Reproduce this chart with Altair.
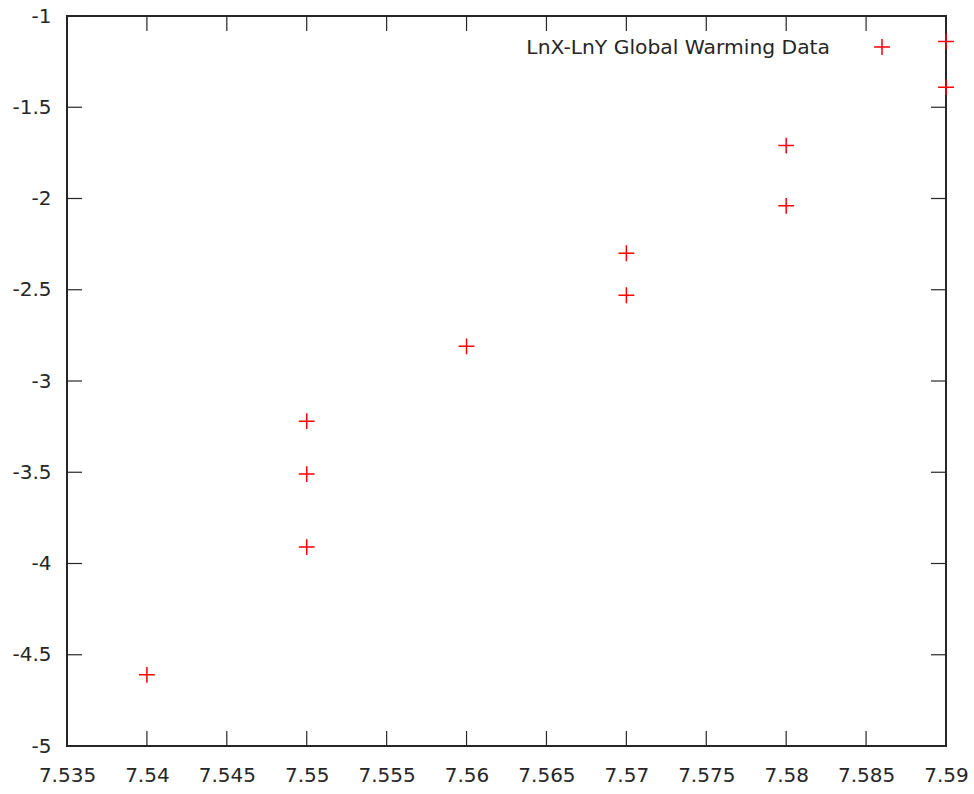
import altair as alt
import pandas as pd

# Data
ln_x = [7.54, 7.55, 7.55, 7.55, 7.56, 7.57, 7.57, 7.58, 7.58, 7.59, 7.59]
ln_y = [-4.61, -3.22, -3.51, -3.91, -2.81, -2.30, -2.53, -1.71, -2.04, -1.14, -1.39]
x_ticks = [7.535, 7.54, 7.545, 7.55, 7.555, 7.56, 7.565, 7.57, 7.575, 7.58, 7.585, 7.59]
y_ticks = [-5, -4.5, -4, -3.5, -3, -2.5, -2, -1.5, -1]
series_label = "LnX-LnY Global Warming Data"

W, H = 879, 730
TICK = 15
FONT = "DejaVu Sans"
INK = "#262626"
PLUS = "M-1,0L1,0M0,-1L0,1"

df = pd.DataFrame({"x": ln_x, "y": ln_y})
xt = pd.DataFrame({"x": x_ticks})
yt = pd.DataFrame({"y": y_ticks})

xscale = alt.Scale(domain=[7.535, 7.59], nice=False, zero=False)
yscale = alt.Scale(domain=[-5, -1], nice=False, zero=False)

xaxis = alt.Axis(values=x_ticks, labelExpr="'' + datum.value", title=None, grid=False,
                 tickSize=0, domain=False, labelPadding=19, labelFontSize=20,
                 labelFont=FONT, labelColor=INK, labelFlush=False)
yaxis = alt.Axis(values=y_ticks, labelExpr="'' + datum.value", title=None, grid=False,
                 tickSize=0, domain=False, labelPadding=16, labelFontSize=20,
                 labelFont=FONT, labelColor=INK, labelFlush=False)

X = alt.X("x:Q", scale=xscale, axis=xaxis)
Y = alt.Y("y:Q", scale=yscale, axis=yaxis)

points = alt.Chart(df).mark_point(shape=PLUS, size=250, filled=False, strokeWidth=1.5,
                                  color="#ff0000", opacity=1).encode(x=X, y=Y)

rule_style = dict(color=INK, strokeWidth=1.2)
bottom = alt.Chart(xt).mark_rule(**rule_style).encode(
    x=X, y=alt.value(H), y2=alt.value(H - TICK))
top = alt.Chart(xt).mark_rule(**rule_style).encode(
    x=X, y=alt.value(0), y2=alt.value(TICK))
left = alt.Chart(yt).mark_rule(**rule_style).encode(
    y=Y, x=alt.value(0), x2=alt.value(TICK))
right = alt.Chart(yt).mark_rule(**rule_style).encode(
    y=Y, x=alt.value(W), x2=alt.value(W - TICK))

key_df = pd.DataFrame({"label": [series_label]})
key_text = alt.Chart(key_df).mark_text(align="right", baseline="middle", font=FONT,
                                       fontSize=20.3, color=INK).encode(
    text="label:N", x=alt.value(763), y=alt.value(32))
key_sym = alt.Chart(key_df).mark_point(shape=PLUS, size=250, filled=False, strokeWidth=1.5,
                                       color="#ff0000", opacity=1).encode(
    x=alt.value(815), y=alt.value(31))

chart = alt.layer(points, bottom, top, left, right, key_text, key_sym).properties(
    width=W, height=H,
    autosize=alt.AutoSizeParams(type="none"),
    padding={"left": 67, "top": 16, "right": 28, "bottom": 48},
    background="white",
).configure_view(stroke=INK, strokeWidth=2)

chart.save("out.html", embed_options={"renderer": "svg", "actions": False})
